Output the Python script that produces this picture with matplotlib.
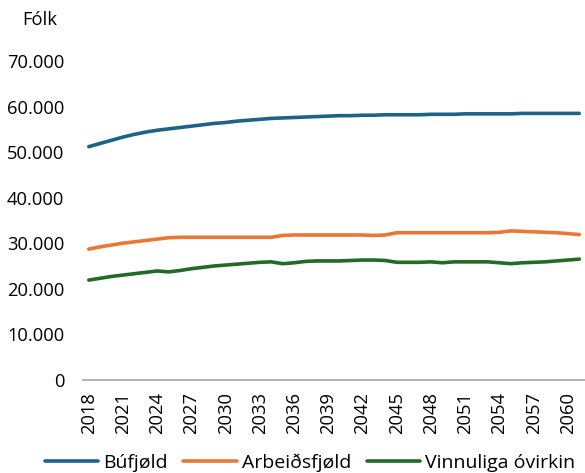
import matplotlib
matplotlib.use("Agg")
import matplotlib.pyplot as plt
from matplotlib.ticker import FuncFormatter

plt.rcParams["font.family"] = ["Open Sans", "DejaVu Sans"]

years = list(range(2018, 2062))

bufjold = [51200, 51900, 52600, 53300, 53900, 54400, 54800, 55100, 55400, 55700,
           56000, 56300, 56500, 56800, 57000, 57200, 57400, 57500, 57600, 57700,
           57800, 57900, 58000, 58000, 58100, 58100, 58200, 58200, 58200, 58200,
           58300, 58300, 58300, 58400, 58400, 58400, 58400, 58400, 58500, 58500,
           58500, 58500, 58500, 58500]

arbeidsfjold = [28700, 29200, 29600, 30000, 30300, 30600, 30900, 31200, 31300, 31300,
                31300, 31300, 31300, 31300, 31300, 31300, 31300, 31700, 31800, 31800,
                31800, 31800, 31800, 31800, 31800, 31700, 31800, 32300, 32300, 32300,
                32300, 32300, 32300, 32300, 32300, 32300, 32400, 32700, 32600, 32500,
                32400, 32300, 32100, 31900]

ovirkin = [21900, 22300, 22700, 23000, 23300, 23600, 23900, 23700, 24000, 24400,
           24700, 25000, 25200, 25400, 25600, 25800, 25900, 25500, 25700, 26000,
           26100, 26100, 26100, 26200, 26300, 26300, 26200, 25800, 25800, 25800,
           25900, 25700, 25900, 25900, 25900, 25900, 25700, 25500, 25700, 25800,
           25900, 26100, 26300, 26500]

series = [
    ("Búfjøld", bufjold, "#1b6387"),
    ("Arbeiðsfjøld", arbeidsfjold, "#ec7636"),
    ("Vinnuliga óvirkin", ovirkin, "#1f6b27"),
]

fig = plt.figure(figsize=(5.85, 4.73), dpi=100)
ax = fig.add_axes([0.142, 0.197, 0.858, 0.674])

x = range(len(years))
for label, vals, color in series:
    ax.plot(x, vals, color=color, lw=2.6, label=label, solid_capstyle="round")

ax.set_xlim(-0.5, len(years) - 0.5)
ax.set_ylim(0, 70000)
ax.set_yticks(range(0, 70001, 10000))
ax.yaxis.set_major_formatter(FuncFormatter(lambda v, _: f"{int(v):,}".replace(",", ".")))
ax.set_xticks(list(x)[::3])
ax.set_xticklabels([str(y) for y in years[::3]], rotation=90)

for side in ("top", "right", "left"):
    ax.spines[side].set_visible(False)
ax.spines["bottom"].set_color("#a6a6a6")
ax.spines["bottom"].set_linewidth(1.2)
ax.tick_params(axis="both", length=0, labelsize=13.2, colors="#000000")
ax.tick_params(axis="y", pad=13.5)
ax.tick_params(axis="x", pad=9)

fig.text(0.038, 0.957, "Fólk", fontsize=13.2, va="center", ha="left")

fig.legend(loc="lower center", bbox_to_anchor=(0.53, -0.035), ncol=3, frameon=False,
           fontsize=14, handlelength=2.75, handletextpad=0.26, columnspacing=0.8)

fig.savefig("out.png", dpi=100)
